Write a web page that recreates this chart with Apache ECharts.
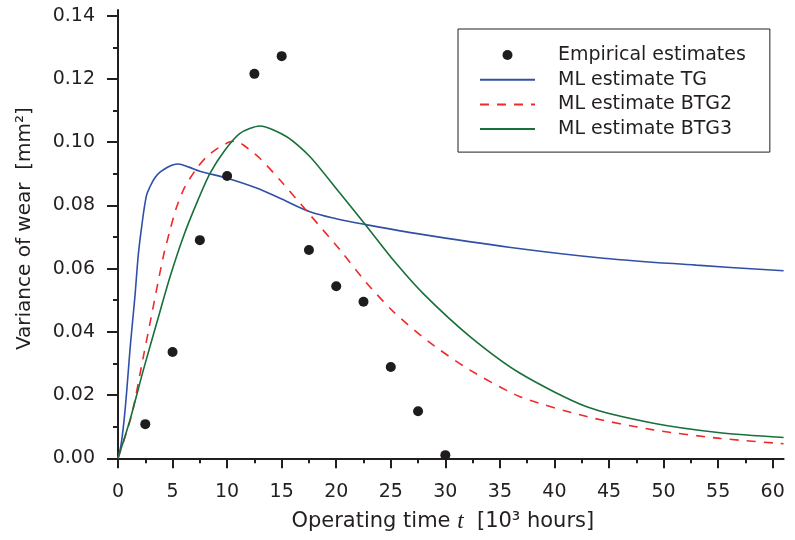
<!DOCTYPE html>
<html>
<head>
<meta charset="utf-8">
<script src="https://cdn.jsdelivr.net/npm/echarts@6/dist/echarts.min.js"></script>
<style>
html,body{margin:0;padding:0;background:#fff;}
#chart{width:795px;height:540px;}
</style>
</head>
<body>
<div id="chart"></div>
<script>
// ---- data ----
const empT = [2.5, 5, 7.5, 10, 12.5, 15, 17.5, 20, 22.5, 25, 27.5, 30];
const empV = [0.0108, 0.0336, 0.0690, 0.0893, 0.1216, 0.1272, 0.0659, 0.0544, 0.0495, 0.0289, 0.0149, 0.0010];

const tgT = [0, 0.3, 0.65, 1.15, 1.55, 1.85, 2.17, 2.6, 2.93, 3.4, 3.85, 4.5, 5.0, 5.5, 6.5, 7.5, 10, 12.7, 15, 17.6, 20, 22.6, 27.7, 36, 44.5, 53, 61];
const tgV = [0, 0.0047, 0.0153, 0.0364, 0.0511, 0.0640, 0.0733, 0.0830, 0.0859, 0.0888, 0.0905, 0.0920, 0.0928, 0.0931, 0.0921, 0.0908, 0.0886, 0.0855, 0.0820, 0.0780, 0.0758, 0.0740, 0.0709, 0.0667, 0.0633, 0.0611, 0.0593];

const btg2T = [0, 1.25, 2.32, 2.93, 4.15, 4.77, 5.38, 6.14, 7.21, 8.13, 9.2, 10.27, 10.8, 11.49, 13.0, 14.85, 17.6, 20.35, 22.8, 25.23, 28.5, 32.26, 36.85, 42.96, 49.07, 55.18, 61];
const btg2V = [0, 0.0137, 0.0321, 0.0427, 0.0638, 0.0722, 0.0796, 0.0859, 0.0917, 0.0954, 0.0982, 0.1001, 0.1003, 0.0991, 0.0949, 0.0880, 0.0770, 0.0659, 0.0554, 0.0464, 0.0368, 0.0279, 0.0195, 0.0132, 0.0090, 0.0063, 0.0046];

const btg3T = [0, 1.1, 2.32, 3.54, 4.77, 5.99, 7.21, 8.43, 9.81, 11.18, 13.0, 15.46, 17.6, 20.35, 22.64, 25.23, 28.0, 32.26, 36.85, 42.96, 49.07, 55.18, 61];
const btg3V = [0, 0.0121, 0.0279, 0.0427, 0.0574, 0.0701, 0.0807, 0.0901, 0.0975, 0.1028, 0.1051, 0.1017, 0.0954, 0.0838, 0.0740, 0.0627, 0.0520, 0.0385, 0.0269, 0.0163, 0.0111, 0.0081, 0.0066];

const xTicks = [0, 5, 10, 15, 20, 25, 30, 35, 40, 45, 50, 55, 60];
const yTicks = [0, 0.02, 0.04, 0.06, 0.08, 0.10, 0.12, 0.14];

const seriesNames = ['Empirical estimates', 'ML estimate TG', 'ML estimate BTG2', 'ML estimate BTG3'];

// ---- build ----
const zip = (a, b) => a.map((v, i) => [v, b[i]]);
const FONT = 'DejaVu Sans';
const INK = '#231f20';
const HIDE = {color: 'rgba(0,0,0,0)', opacity: 0, borderWidth: 0};

const chart = echarts.init(document.getElementById('chart'), null, {renderer: 'canvas'});

const axisCommon = {
  axisLine: {show: true, onZero: false, lineStyle: {color: INK, width: 2}},
  splitLine: {show: false},
  minorTick: {show: true, splitNumber: 2, length: 5, lineStyle: {color: INK, width: 2}},
  minorSplitLine: {show: false}
};

chart.setOption({
  animation: false,
  backgroundColor: '#fff',
  grid: {left: 118, right: 11.4, top: 10, bottom: 81.7, containLabel: false},
  xAxis: Object.assign({}, axisCommon, {
    type: 'value', min: 0, max: 61, interval: 5,
    axisTick: {show: true, inside: false, length: 10, lineStyle: {color: INK, width: 2}, customValues: xTicks},
    axisLabel: {color: INK, fontFamily: FONT, fontSize: 19, margin: 24, customValues: xTicks},
    name: 'Operating time {it|t}  [10³ hours]',
    nameLocation: 'middle', nameGap: 52,
    nameTextStyle: {
      color: INK, fontFamily: FONT, fontSize: 21, padding: [0, 16, 0, 0],
      rich: {it: {fontFamily: 'Liberation Serif', fontStyle: 'italic', fontSize: 23, color: INK}}
    }
  }),
  yAxis: Object.assign({}, axisCommon, {
    type: 'value', min: 0, max: 0.1418, interval: 0.02,
    axisTick: {show: true, inside: false, length: 11, lineStyle: {color: INK, width: 2}, customValues: yTicks},
    axisLabel: {color: INK, fontFamily: FONT, fontSize: 19, margin: 23, customValues: yTicks,
      formatter: v => v.toFixed(2)},
    name: 'Variance of wear  [mm²]',
    nameLocation: 'middle', nameGap: 83, nameRotate: 90,
    nameTextStyle: {color: INK, fontFamily: FONT, fontSize: 20, padding: [0, 0, 0, 11]}
  }),
  legend: {
    data: [
      {name: seriesNames[0]},
      {name: seriesNames[1], itemStyle: HIDE},
      {name: seriesNames[2], itemStyle: HIDE},
      {name: seriesNames[3], itemStyle: HIDE}
    ],
    orient: 'vertical',
    left: 458, top: 29,
    padding: [16, 24, 13, 21],
    itemGap: 4.7,
    itemWidth: 55, itemHeight: 10,
    borderColor: INK, borderWidth: 1, borderRadius: 0,
    backgroundColor: '#fff',
    selectedMode: false,
    textStyle: {color: INK, fontFamily: FONT, fontSize: 19, lineHeight: 20, padding: [0, 0, 0, 18]}
  },
  series: [
    {
      name: seriesNames[1], type: 'line', data: zip(tgT, tgV), symbol: 'none',
      smooth: 0.35,
      lineStyle: {color: '#3050a8', width: 1.6}, itemStyle: {color: '#3050a8'}, z: 2
    },
    {
      name: seriesNames[2], type: 'line', data: zip(btg2T, btg2V), symbol: 'none',
      smooth: 0.25,
      lineStyle: {color: '#ee2a2a', width: 1.6, type: [9, 8]}, itemStyle: {color: '#ee2a2a'}, z: 2
    },
    {
      name: seriesNames[3], type: 'line', data: zip(btg3T, btg3V), symbol: 'none',
      smooth: 0.25,
      lineStyle: {color: '#17703a', width: 1.6}, itemStyle: {color: '#17703a'}, z: 2
    },
    {
      name: seriesNames[0], type: 'scatter', data: zip(empT, empV),
      symbol: 'circle', symbolSize: 10,
      itemStyle: {color: '#1e1c1d', opacity: 1}, z: 5
    }
  ]
});
</script>
</body>
</html>
